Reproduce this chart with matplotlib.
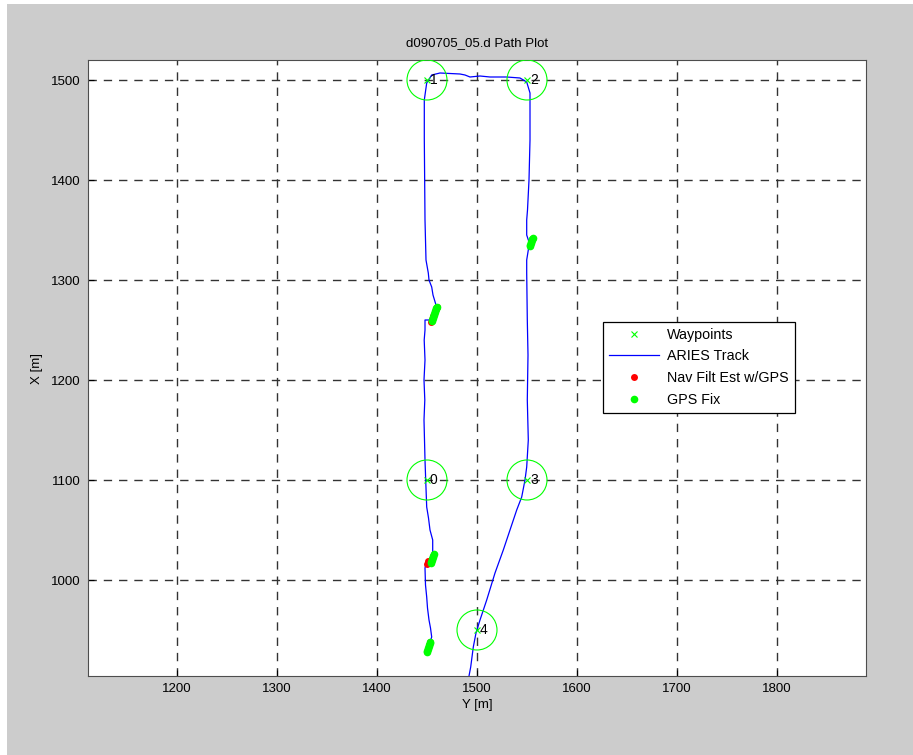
import matplotlib
matplotlib.use('Agg')
from matplotlib import pyplot as plt
from matplotlib.patches import Circle, Rectangle

plt.rcParams['font.family'] = ['Liberation Sans', 'DejaVu Sans']

# waypoints (Y, X)
wp_y = [1450, 1450, 1550, 1550, 1500]
wp_x = [1100, 1500, 1500, 1100, 950]
wp_lbl = ['0', '1', '2', '3', '4']
wp_radius = 20

# ARIES track (Y, X)
trk_y = [1451, 1454.7, 1453.5, 1452, 1450.5, 1449.7, 1448.5, 1448, 1449, 1449.7, 1453, 1455.7,
         1455.7, 1453, 1451.5, 1449.7, 1448.7, 1448, 1447.5, 1447, 1447.8, 1447, 1448, 1447.2,
         1448, 1448, 1454.7, 1458, 1459, 1456, 1454.7, 1452, 1451.3, 1449, 1448, 1447.3,
         1447.3, 1449.7, 1454.7, 1463, 1483, 1488, 1493, 1503, 1513, 1529.7, 1543, 1549.7,
         1553, 1553, 1552, 1550.5, 1549.7, 1549.7, 1552, 1551.3, 1549.7, 1549.7, 1550.3,
         1551, 1550.3, 1551.3, 1549.7, 1548, 1544.7, 1539.7, 1533, 1526.3, 1518, 1509.7,
         1503, 1499, 1496.3, 1493.7, 1492]
trk_x = [932, 943, 952, 960, 972, 983, 995, 1012, 1016, 1018, 1022, 1028,
         1040, 1050, 1062, 1073, 1100, 1120, 1140, 1160, 1180, 1200, 1220, 1240,
         1250, 1260, 1260, 1265, 1275, 1285, 1293, 1300, 1307, 1320, 1360, 1442,
         1480, 1497, 1505, 1507, 1506, 1505, 1503, 1504, 1503, 1503, 1502, 1498,
         1487, 1440, 1400, 1370, 1360, 1345, 1338, 1330, 1320, 1307, 1260,
         1225, 1180, 1140, 1113, 1100, 1083, 1070, 1050, 1030, 1007, 980,
         960, 947, 933, 913, 904]

# GPS fixes and nav filter estimates (Y, X)
gps_y = [1450, 1450.5, 1451, 1451.5, 1452, 1452.5, 1453, 1453.5,
         1454, 1454.5, 1455, 1455.5, 1456, 1456.5, 1457,
         1455, 1455.5, 1456, 1456.5, 1457, 1457.5, 1458, 1458.5, 1459, 1459.5, 1460,
         1553, 1553.5, 1554, 1554.5, 1555, 1555.5, 1556]
gps_x = [928, 929.5, 931, 932.5, 934, 935.5, 937, 938,
         1017, 1018.5, 1020, 1021.5, 1023, 1024.5, 1026,
         1259, 1260.5, 1262, 1263.5, 1265, 1266.5, 1268, 1269.5, 1271, 1272, 1273,
         1334, 1335.5, 1337, 1338.5, 1340, 1341, 1342]
nav_y = [1452, 1453, 1450.5, 1451.5, 1454, 1455, 1456, 1459, 1460]
nav_x = [935, 938, 1016, 1019, 1258, 1261, 1264, 1271, 1273]

xticks = [1200, 1300, 1400, 1500, 1600, 1700, 1800]
yticks = [1000, 1100, 1200, 1300, 1400, 1500]

fs = 9.5

fig = plt.figure(figsize=(9.13, 7.55), dpi=100, facecolor='white')
fig.patches.append(Rectangle((7 / 913, 0), 1 - 7 / 913, 1 - 4 / 755, transform=fig.transFigure,
                             facecolor='#cccccc', edgecolor='none', zorder=-10))
ax = fig.add_axes([88 / 913, 1 - 676 / 755, 778 / 913, 616 / 755])

ax.plot(wp_y, wp_x, 'x', color='#00ff00', markersize=4, mew=0.8, label='Waypoints', zorder=4)
ax.plot(trk_y, trk_x, '-', color='blue', lw=0.9, label='ARIES Track', zorder=3)
ax.plot(nav_y, nav_x, 'o', color='red', markersize=5, mew=0, label='Nav Filt Est w/GPS', zorder=4)
ax.plot(gps_y, gps_x, 'o', color='#00ff00', markersize=5.5, mew=0, label='GPS Fix', zorder=5)

for y, x, t in zip(wp_y, wp_x, wp_lbl):
    ax.add_patch(Circle((y, x), wp_radius, fill=False, edgecolor='#00ff00', lw=0.8, zorder=4))
    ax.text(y + 3, x, t, fontsize=fs + 0.5, va='center', ha='left', zorder=6)

ax.set_xlim(1111, 1889)
ax.set_ylim(904, 1520)
ax.set_xticks(xticks)
ax.set_yticks(yticks)
ax.tick_params(direction='in', labelsize=fs, length=4, pad=5)
ax.grid(True, color='0.2', linestyle=(0, (6, 5)), linewidth=1.0)
ax.set_axisbelow(True)
for s in ax.spines.values():
    s.set_color('0.3')

ax.set_title('d090705_05.d Path Plot', fontsize=fs, pad=10)
ax.set_xlabel('Y [m]', fontsize=fs, labelpad=3)
ax.set_ylabel('X [m]', fontsize=fs, labelpad=6)

leg = ax.legend(loc='upper left', bbox_to_anchor=(0.662, 0.5748), fontsize=10.3, frameon=True,
                fancybox=False, edgecolor='black', framealpha=1, handlelength=3.5,
                handletextpad=0.6, borderpad=0.4, labelspacing=0.54, borderaxespad=0)
leg.get_frame().set_linewidth(0.9)

fig.savefig('out.png', dpi=100, facecolor=fig.get_facecolor())
